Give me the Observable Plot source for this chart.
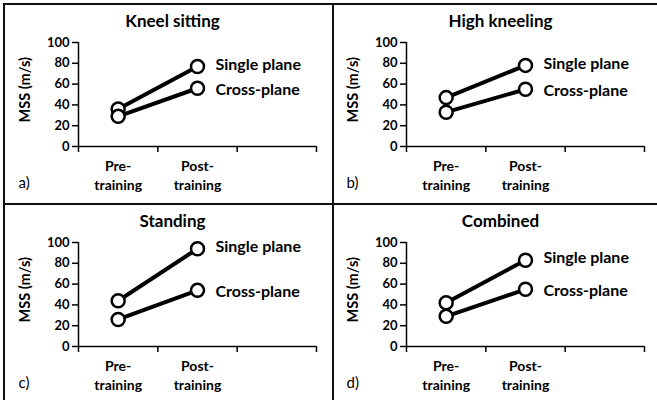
<!DOCTYPE html>
<html>
<head>
<meta charset="utf-8">
<script src="https://cdn.jsdelivr.net/npm/d3@7"></script>
<script src="https://cdn.jsdelivr.net/npm/@observablehq/plot@0.6"></script>
<style>
  html, body { margin: 0; padding: 0; background: #fff; }
  #root { position: relative; width: 657px; height: 400px; overflow: hidden; background: #fff; font-family: Lato, sans-serif; }
  .panel { position: absolute; width: 328px; height: 200px; }
  .line { position: absolute; background: #111; }
</style>
</head>
<body>
<div id="root"></div>
<script>
// ---- data ----
const panelTitles = ["Kneel sitting", "High kneeling", "Standing", "Combined"];
const panelLetters = ["a)", "b)", "c)", "d)"];
const phases = ["Pre-\ntraining", "Post-\ntraining"];
const seriesNames = ["Single plane", "Cross-plane"];
const singlePlane = [[36, 77], [47, 78], [44, 94], [42, 83]];
const crossPlane = [[29, 56], [33, 55], [26, 54], [29, 55]];
const yTicks = [0, 20, 40, 60, 80, 100];
const yLabel = "MSS (m/s)";

const root = document.getElementById("root");
const offsets = [[0, 0], [328, 0], [0, 200], [328, 200]];

panelTitles.forEach((title, p) => {
  const rows = [];
  [singlePlane[p], crossPlane[p]].forEach((vals, s) => {
    vals.forEach((v, i) => rows.push({series: seriesNames[s], s, x: i + 0.5, y: v, last: i === vals.length - 1}));
  });
  const chart = Plot.plot({
    width: 328,
    height: 200,
    marginLeft: 78,
    marginRight: 12,
    marginTop: 42,
    marginBottom: 54,
    style: {fontFamily: "Lato, sans-serif", fontWeight: "bold", fontSize: "13px", color: "#000", background: "transparent", overflow: "visible"},
    x: {domain: [0, 3]},
    y: {domain: [0, 100]},
    marks: [
      Plot.ruleX([0], {y1: 0, y2: 100, stroke: "#000", strokeWidth: 1.5}),
      Plot.ruleY([0], {x1: 0, x2: 3, stroke: "#000", strokeWidth: 1.5}),
      Plot.axisY({ticks: yTicks, tickSize: 6, tickPadding: 3, fontSize: 13, strokeWidth: 1.5, label: null}),
      Plot.axisX({ticks: [0, 1, 2, 3], tickSize: 6, tickFormat: () => "", label: null, strokeWidth: 1.5}),
      Plot.axisX({ticks: [0.5, 1.5], tickSize: 0, tickPadding: 12, tickFormat: (d) => phases[Math.floor(d)], label: null, fontSize: 14, lineHeight: 1.3}),
      Plot.line(rows, {x: "x", y: "y", z: "series", stroke: "#000", strokeWidth: 4}),
      Plot.dot(rows, {x: "x", y: "y", r: 6.5, fill: "#fff", stroke: "#000", strokeWidth: 2.5}),
      Plot.text(rows.filter(d => d.last && d.s === 0), {x: "x", y: "y", text: "series", dx: 18, dy: -2, textAnchor: "start", fontSize: 16, fill: "#000"}),
      Plot.text(rows.filter(d => d.last && d.s === 1), {x: "x", y: "y", text: "series", dx: 18, dy: 2, textAnchor: "start", fontSize: 16, fill: "#000"}),
      Plot.text([yLabel], {x: 0, y: 50, text: (d) => d, rotate: -90, textAnchor: "start", lineAnchor: "middle", dx: -53, dy: 28, fontSize: 14.5, fill: "#000"}),
      Plot.text([title], {frameAnchor: "top", textAnchor: "middle", lineAnchor: "middle", dx: -25, dy: -21, fontSize: 17, fill: "#000"}),
      Plot.text([panelLetters[p]], {frameAnchor: "bottom-left", textAnchor: "start", lineAnchor: "middle", dx: -60, dy: 37, fontSize: 15, fontWeight: "normal", fill: "#000"})
    ]
  });
  const div = document.createElement("div");
  div.className = "panel";
  div.style.left = offsets[p][0] + "px";
  div.style.top = offsets[p][1] + "px";
  div.appendChild(chart);
  root.appendChild(div);
});

// frame lines (decoration)
[
  {left: 3, top: 3, width: 654, height: 2},
  {left: 3, top: 3, width: 2, height: 397},
  {left: 332, top: 3, width: 2, height: 397},
  {left: 3, top: 203, width: 654, height: 2}
].forEach(s => {
  const d = document.createElement("div");
  d.className = "line";
  Object.entries(s).forEach(([k, v]) => d.style[k] = v + "px");
  root.appendChild(d);
});
</script>
</body>
</html>
